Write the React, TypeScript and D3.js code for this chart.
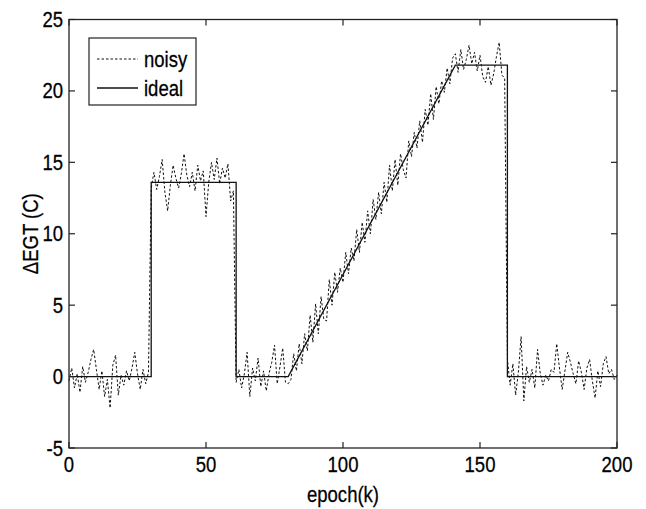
import React from "react";
import * as d3 from "d3";

const noisyY: number[] = [
  -0.3, 0.6, -0.8, 0.2, -1.1, 0.7, -0.4, 0.3, 1.2, 1.9,
  0.5, -0.9, 0.4, -1.4, -0.2, -2.2, 0.8, 1.5, -1.3, 0.1,
  -0.6, 0.4, -0.3, 0.6, 1.7, 0.2, -0.9, 0.5, -0.5, 0.3,
  13.2, 14.3, 13.1, 14.0, 15.2, 12.9, 11.6, 13.4, 14.8, 13.9,
  13.2, 14.2, 15.6, 14.1, 13.3, 14.3, 13.0, 14.8, 13.7, 14.4,
  11.2, 13.6, 15.0, 13.8, 15.3, 13.5, 14.6, 13.9, 14.9, 12.3,
  13.0,
  -0.4, 0.5, -0.8, 0.2, 1.7, -1.4, 0.6, -0.3, 1.3,
  -0.7, 0.4, -1.0, 0.2, 1.0, 2.2, -0.5, 0.7, 2.0, -0.4,
  -0.5, -0.2, 1.6, 0.4, 2.3, 0.9, 3.0, 1.8, 4.3, 2.4,
  5.1, 3.0, 5.6, 4.0, 3.9, 6.8, 5.0, 7.3, 5.9, 7.6,
  6.6, 8.7, 7.2, 9.0, 8.1, 10.3, 8.7, 10.8, 9.4, 11.6,
  10.0, 12.4, 11.0, 12.9, 11.4, 13.6, 12.2, 14.8, 13.0, 15.2,
  13.4, 15.6, 14.5, 13.9, 16.5, 15.4, 17.1, 16.0, 17.9, 16.4,
  18.7, 17.6, 19.8, 18.0, 20.3, 19.1, 20.7, 19.9, 21.6, 20.5,
  22.3,
  22.6, 21.3, 22.9, 21.5, 22.2, 23.2, 21.9, 22.7, 21.4,
  22.5, 21.0, 20.6, 21.7, 20.4, 21.2, 22.4, 23.4, 21.1, 20.9,
  1.2, -0.6, 0.9, -1.3, 0.3, 2.8, -1.7, 0.7, -0.4, 0.5,
  -0.8, 1.9, 0.2, -0.6, 0.1, -0.3, 0.5, 0.3, 2.3, 0.6,
  -0.9, 0.4, 1.7, 1.0, 0.2, -0.5, 1.1, 0.3, -0.9, 0.6,
  1.2, -0.3, -1.5, 0.4, -0.7, 0.9, 1.4, 0.2, 0.5, -0.2,
  0.1,
];

const idealX: number[] = [0, 30, 30, 61, 61, 80, 141, 160, 160, 200];
const idealY: number[] = [0, 0, 13.6, 13.6, 0, 0, 21.8, 21.8, 0, 0];

const xTicks: number[] = [0, 50, 100, 150, 200];
const yTicks: number[] = [-5, 0, 5, 10, 15, 20, 25];
const legendLabels: string[] = ["noisy", "ideal"];

const W = 646;
const H = 509;
const L = 69, R = 617, T = 19.5, B = 448;

function T2({ x, y, anchor, children, rotate }: { x: number; y: number; anchor?: string; children: React.ReactNode; rotate?: boolean }) {
  return (
    <text
      transform={`translate(${x},${y})${rotate ? " rotate(-90)" : ""} scale(0.95,1.12)`}
      textAnchor={anchor || "start"}
      fontSize={19.5}
      fill="#000"
      stroke="#000"
      strokeWidth={0.25}
    >
      {children}
    </text>
  );
}

export default function App() {
  const x = d3.scaleLinear().domain([0, 200]).range([L, R]);
  const y = d3.scaleLinear().domain([-5, 25]).range([B, T]);
  const line = d3
    .line<[number, number]>()
    .x((d) => x(d[0]))
    .y((d) => y(d[1]));
  const noisyPts: [number, number][] = noisyY.map((v, i) => [i, v]);
  const idealPts: [number, number][] = idealX.map((v, i) => [v, idealY[i]]);
  const font = "'Liberation Sans', Arial, sans-serif";
  const tl = 6;
  return (
    <svg
      width={W}
      height={H}
      style={{ position: "absolute", left: 0, top: 0, background: "#fff" }}
      fontFamily={font}
    >
      <rect x={0} y={0} width={W} height={H} fill="#fff" />
      <path d={line(noisyPts) || ""} fill="none" stroke="#111" strokeWidth={1} strokeDasharray="2.5,2" />
      <path d={line(idealPts) || ""} fill="none" stroke="#111" strokeWidth={1.3} />
      <rect x={L} y={T} width={R - L} height={B - T} fill="none" stroke="#222" strokeWidth={1.3} />
      {xTicks.map((t) => (
        <g key={"x" + t}>
          <line x1={x(t)} x2={x(t)} y1={B} y2={B - tl} stroke="#222" strokeWidth={1.2} />
          <line x1={x(t)} x2={x(t)} y1={T} y2={T + tl} stroke="#222" strokeWidth={1.2} />
          <T2 x={x(t)} y={472} anchor="middle">{t}</T2>
        </g>
      ))}
      {yTicks.map((t) => (
        <g key={"y" + t}>
          <line x1={L} x2={L + tl} y1={y(t)} y2={y(t)} stroke="#222" strokeWidth={1.2} />
          <line x1={R} x2={R - tl} y1={y(t)} y2={y(t)} stroke="#222" strokeWidth={1.2} />
          <T2 x={63} y={y(t) + 7.5} anchor="end">{t}</T2>
        </g>
      ))}
      <T2 x={343} y={502} anchor="middle">epoch(k)</T2>
      <T2 x={38} y={(T + B) / 2} anchor="middle" rotate>ΔEGT (C)</T2>
      <rect x={89} y={38} width={107} height={67} fill="#fff" stroke="#222" strokeWidth={1.2} />
      {legendLabels.map((lab, i) => (
        <g key={lab}>
          <line
            x1={97}
            x2={138}
            y1={59 + i * 29}
            y2={59 + i * 29}
            stroke="#111"
            strokeWidth={i === 0 ? 1 : 1.3}
            strokeDasharray={i === 0 ? "2.5,2" : undefined}
          />
          <T2 x={144} y={59 + i * 29 + 7.5}>{lab}</T2>
        </g>
      ))}
    </svg>
  );
}
